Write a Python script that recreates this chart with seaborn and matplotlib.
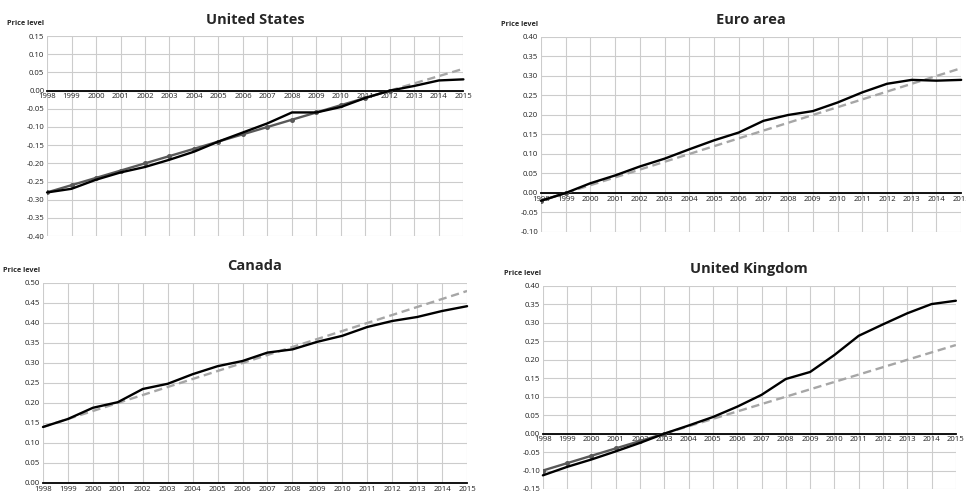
import matplotlib
matplotlib.use("Agg")
import matplotlib.pyplot as plt
import seaborn as sns
import numpy as np

sns.set_style("white")
plt.rcParams["font.family"] = ["Open Sans", "DejaVu Sans"]

years = list(range(1998, 2016))

# United States
us_actual = [-0.280, -0.270, -0.245, -0.225, -0.210, -0.190, -0.168, -0.140, -0.115,
             -0.090, -0.060, -0.060, -0.045, -0.020, 0.000, 0.013, 0.028, 0.031]
us_path_years = list(range(1998, 2013))
us_path = [-0.28, -0.26, -0.24, -0.22, -0.20, -0.18, -0.16, -0.14, -0.12, -0.10,
           -0.08, -0.06, -0.04, -0.02, 0.00]
us_trend_years = [2012, 2013, 2014, 2015]
us_trend = [0.00, 0.02, 0.04, 0.06]

# Euro area
ea_actual = [-0.020, 0.000, 0.025, 0.045, 0.068, 0.088, 0.112, 0.135, 0.155,
             0.185, 0.200, 0.210, 0.232, 0.258, 0.280, 0.290, 0.288, 0.290]
ea_path_years = [1998, 1999]
ea_path = [-0.02, 0.00]
ea_trend_years = list(range(1999, 2016))
ea_trend = [0.00, 0.02, 0.04, 0.06, 0.08, 0.10, 0.12, 0.14, 0.16, 0.18, 0.20,
            0.22, 0.24, 0.26, 0.28, 0.30, 0.32]

# Canada
ca_actual = [0.140, 0.160, 0.188, 0.202, 0.235, 0.248, 0.272, 0.292, 0.305,
             0.326, 0.334, 0.353, 0.368, 0.390, 0.405, 0.415, 0.430, 0.442]
ca_path_years = []
ca_path = []
ca_trend_years = list(range(1998, 2016))
ca_trend = [0.14, 0.16, 0.18, 0.20, 0.22, 0.24, 0.26, 0.28, 0.30, 0.32, 0.34,
            0.36, 0.38, 0.40, 0.42, 0.44, 0.46, 0.48]

# United Kingdom
uk_actual = [-0.113, -0.090, -0.070, -0.048, -0.025, 0.000, 0.022, 0.045, 0.073,
             0.105, 0.148, 0.167, 0.213, 0.265, 0.296, 0.326, 0.351, 0.360]
uk_path_years = list(range(1998, 2004))
uk_path = [-0.10, -0.08, -0.06, -0.04, -0.02, 0.00]
uk_trend_years = list(range(2003, 2016))
uk_trend = [0.00, 0.02, 0.04, 0.06, 0.08, 0.10, 0.12, 0.14, 0.16, 0.18, 0.20,
            0.22, 0.24]

panels = [
    dict(title="United States", actual=us_actual, py=us_path_years, pv=us_path,
         ty=us_trend_years, tv=us_trend, ylim=(-0.40, 0.15),
         rect=[0.0487, 0.525, 0.431, 0.4024]),
    dict(title="Euro area", actual=ea_actual, py=ea_path_years, pv=ea_path,
         ty=ea_trend_years, tv=ea_trend, ylim=(-0.10, 0.40),
         rect=[0.560, 0.5332, 0.435, 0.3924]),
    dict(title="Canada", actual=ca_actual, py=ca_path_years, pv=ca_path,
         ty=ca_trend_years, tv=ca_trend, ylim=(0.00, 0.50),
         rect=[0.0445, 0.0282, 0.439, 0.4024]),
    dict(title="United Kingdom", actual=uk_actual, py=uk_path_years, pv=uk_path,
         ty=uk_trend_years, tv=uk_trend, ylim=(-0.15, 0.40),
         rect=[0.562, 0.0161, 0.4275, 0.4085]),
]

fig = plt.figure(figsize=(9.66, 4.97), dpi=100)

for p in panels:
    ax = fig.add_axes(p["rect"])
    lo, hi = p["ylim"]
    yt = np.round(np.arange(lo, hi + 0.001, 0.05), 2)
    ax.set_xlim(1998, 2015)
    ax.set_ylim(lo, hi)
    ax.set_xticks(years)
    ax.set_yticks(yt)
    ax.grid(True, color="#cccccc", linewidth=0.8)
    ax.set_axisbelow(True)

    sns.lineplot(x=p["ty"], y=p["tv"], ax=ax, color="#a6a6a6", linewidth=1.7,
                 linestyle=(0, (3.5, 2)), zorder=3)
    if p["py"]:
        sns.lineplot(x=p["py"], y=p["pv"], ax=ax, color="#595959", linewidth=1.7,
                     marker="o", markersize=3.6, markeredgewidth=0, zorder=4)
    sns.lineplot(x=years, y=p["actual"], ax=ax, color="black", linewidth=1.7,
                 zorder=5, clip_on=False)

    for s in ["top", "right", "left"]:
        ax.spines[s].set_visible(False)
    ax.spines["bottom"].set_position(("data", 0))
    ax.spines["bottom"].set_color("black")
    ax.spines["bottom"].set_linewidth(1.3)
    ax.spines["bottom"].set_zorder(2)

    ax.set_xticklabels([str(y) for y in years], fontsize=5.6, color="#222222")
    ax.set_yticklabels([f"{abs(v) if v == 0 else v:.2f}" for v in yt],
                       fontsize=5.6, color="#222222")
    ax.tick_params(axis="both", length=0, pad=2)
    for lab in ax.get_xticklabels():
        lab.set_clip_on(False)

    ax.set_title(p["title"], fontsize=10.5, fontweight="bold", pad=9)
    ax.text(-0.095, 1.045, "Price level", transform=ax.transAxes, fontsize=5.2,
            fontweight="bold", ha="left", va="bottom")

fig.savefig("out.png", dpi=100, facecolor="white")
